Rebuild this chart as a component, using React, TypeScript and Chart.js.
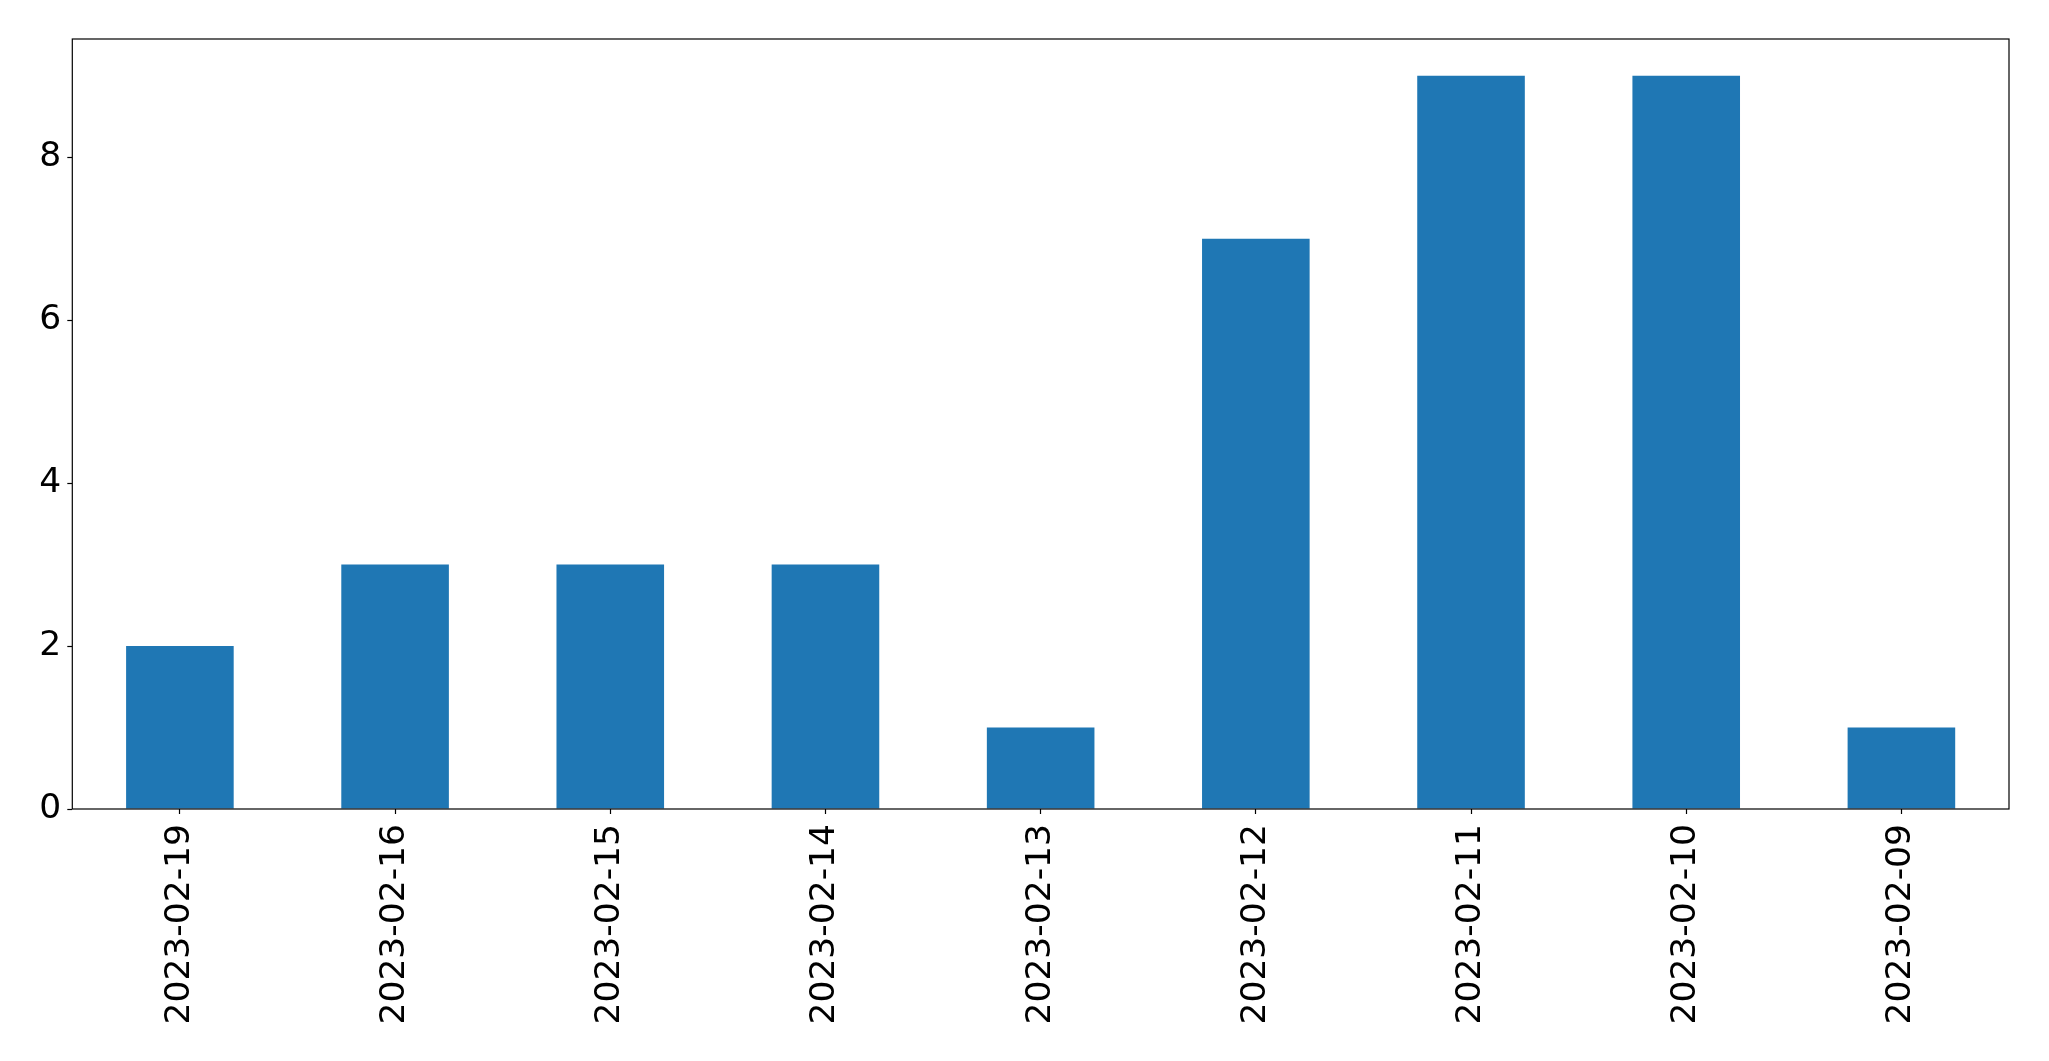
import React, { useEffect, useRef } from "react";
import { Chart, registerables } from "chart.js";

Chart.register(...registerables);

const categories = [
  "2023-02-19",
  "2023-02-16",
  "2023-02-15",
  "2023-02-14",
  "2023-02-13",
  "2023-02-12",
  "2023-02-11",
  "2023-02-10",
  "2023-02-09",
];
const values = [2, 3, 3, 3, 1, 7, 9, 9, 1];
const yTicks = [0, 2, 4, 6, 8];
const yMax = 9.45;

const W = 2049;
const H = 1061;

const frame = {
  id: "frame",
  afterDatasetsDraw(chart: any) {
    const { ctx, chartArea } = chart;
    ctx.save();
    ctx.strokeStyle = "#000";
    ctx.lineWidth = 1.2;
    ctx.strokeRect(chartArea.left, chartArea.top, chartArea.right - chartArea.left, chartArea.bottom - chartArea.top);
    ctx.restore();
  },
};

export default function App() {
  const ref = useRef<HTMLCanvasElement | null>(null);
  useEffect(() => {
    document.body.style.margin = "0";
    const font = { family: "DejaVu Sans", size: 34.5 };
    const chart = new Chart(ref.current as HTMLCanvasElement, {
      type: "bar",
      data: {
        labels: categories,
        datasets: [
          {
            data: values,
            backgroundColor: "#1f77b4",
            borderWidth: 0,
            barPercentage: 0.5,
            categoryPercentage: 1,
          },
        ],
      },
      options: {
        animation: false,
        responsive: false,
        devicePixelRatio: 1,
        layout: { padding: { top: 39, right: 40, left: 0, bottom: 0 } },
        plugins: { legend: { display: false }, tooltip: { enabled: false } },
        scales: {
          x: {
            type: "category",
            offset: true,
            grid: {
              offset: false,
              drawOnChartArea: false,
              drawTicks: true,
              tickLength: 5,
              tickColor: "#000",
              tickWidth: 1.2,
            },
            border: { display: false },
            ticks: {
              color: "#000",
              font,
              minRotation: 90,
              maxRotation: 90,
              padding: 10,
              autoSkip: false,
            },
            afterFit(scale: any) {
              scale.height = 252;
            },
          },
          y: {
            min: 0,
            max: yMax,
            grid: {
              drawOnChartArea: false,
              drawTicks: true,
              tickLength: 5,
              tickColor: "#000",
              tickWidth: 1.2,
            },
            border: { display: false },
            afterBuildTicks(scale: any) {
              scale.ticks = yTicks.map((v) => ({ value: v }));
            },
            ticks: {
              color: "#000",
              font,
              padding: 6,
            },
            afterFit(scale: any) {
              scale.width = 72.3;
            },
          },
        },
      },
      plugins: [frame],
    });
    return () => chart.destroy();
  }, []);
  return (
    <div style={{ width: W, height: H, background: "#fff" }}>
      <canvas ref={ref} width={W} height={H} style={{ display: "block", width: W, height: H }} />
    </div>
  );
}
